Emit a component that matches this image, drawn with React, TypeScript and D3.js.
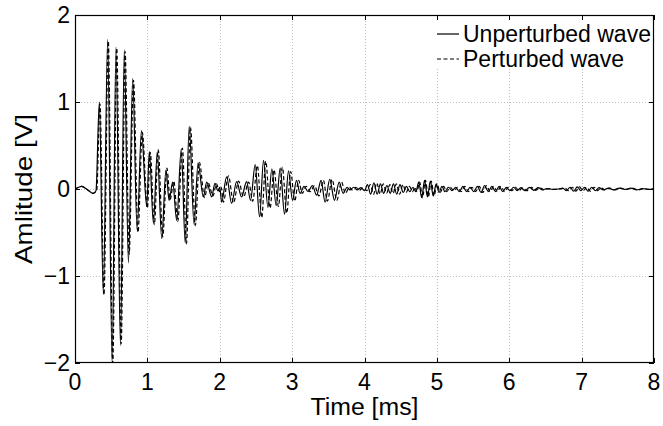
import * as d3 from "d3";

// peaks and troughs, [time ms, amplitude V]
const unperturbedWave: [number, number][] = [
  [0.0, 0.0], [0.05, 0.02], [0.09, 0.03], [0.14, 0.01], [0.19, -0.02], [0.25, -0.05], [0.29, -0.02],
  [0.336, 1.0], [0.391, -1.2], [0.451, 1.72], [0.513, -2.0], [0.566, 1.63], [0.628, -1.8],
  [0.681, 1.6], [0.738, -0.85], [0.797, 1.27], [0.858, -0.47], [0.918, 0.67], [0.99, -0.2],
  [1.027, 0.43], [1.083, -0.39], [1.137, 0.43], [1.198, -0.57], [1.257, 0.22], [1.3, -0.13],
  [1.35, 0.08], [1.405, -0.36], [1.468, 0.46], [1.523, -0.62], [1.578, 0.72], [1.645, -0.41],
  [1.7, 0.3], [1.773, -0.09], [1.82, 0.08], [1.888, -0.09], [1.934, 0.065], [1.975, -0.02],
  [2.0, 0.02], [2.026, -0.15], [2.095, 0.14], [2.164, -0.165], [2.233, 0.084], [2.302, -0.09],
  [2.371, 0.084], [2.425, -0.13], [2.49, 0.28], [2.55, -0.32], [2.605, 0.33], [2.665, -0.21],
  [2.72, 0.23], [2.78, -0.19], [2.835, 0.24], [2.895, -0.29], [2.95, 0.21], [3.005, -0.13],
  [3.06, 0.1], [3.11, -0.05], [3.165, 0.03], [3.22, -0.03], [3.28, 0.04], [3.338, -0.07],
  [3.4, 0.1], [3.455, -0.15], [3.52, 0.11], [3.585, -0.13], [3.65, 0.08], [3.705, -0.05],
  [3.76, 0.02], [3.8, -0.01], [3.85, 0.02], [3.9, -0.01], [3.95, 0.015], [4.0, -0.02],
  [4.04, 0.05], [4.085, -0.06], [4.13, 0.07], [4.175, -0.06], [4.22, 0.06], [4.265, -0.05],
  [4.31, 0.04], [4.355, -0.05], [4.4, 0.06], [4.445, -0.06], [4.49, 0.05], [4.535, -0.04],
  [4.58, 0.03], [4.625, -0.03], [4.67, 0.02], [4.71, -0.03], [4.75, 0.08], [4.79, -0.1],
  [4.83, 0.1], [4.87, -0.09], [4.91, 0.09], [4.95, -0.08], [4.99, 0.06], [5.03, -0.04],
  [5.07, 0.03], [5.11, -0.03], [5.16, 0.02], [5.21, -0.02], [5.26, 0.02], [5.31, -0.03],
  [5.36, 0.03], [5.41, -0.03], [5.46, 0.02], [5.51, -0.03], [5.56, 0.03], [5.61, -0.04],
  [5.66, 0.04], [5.71, -0.03], [5.76, 0.03], [5.81, -0.03], [5.86, 0.03], [5.91, -0.03],
  [5.96, 0.02], [6.01, -0.02], [6.06, 0.02], [6.11, -0.02], [6.16, 0.015], [6.22, -0.02],
  [6.28, 0.02], [6.34, -0.015], [6.4, 0.015], [6.46, -0.01], [6.52, 0.005], [6.6, -0.005],
  [6.68, 0.0], [6.74, 0.01], [6.79, -0.02], [6.84, 0.02], [6.89, -0.025], [6.94, 0.025],
  [6.99, -0.02], [7.04, 0.02], [7.09, -0.025], [7.14, 0.02], [7.19, -0.02], [7.24, 0.015],
  [7.3, -0.01], [7.37, 0.01], [7.44, -0.01], [7.52, 0.01], [7.6, -0.005], [7.68, 0.01],
  [7.76, -0.01], [7.84, 0.005], [7.92, -0.005], [8.0, 0.005],
];

const perturbedWave: [number, number][] = [
  [0.0, 0.0], [0.05, 0.02], [0.09, 0.03], [0.14, 0.01], [0.19, -0.02], [0.25, -0.05], [0.3, -0.02],
  [0.345, 0.98], [0.4, -1.22], [0.46, 1.7], [0.522, -2.0], [0.576, 1.62], [0.638, -1.78],
  [0.692, 1.58], [0.748, -0.75], [0.808, 1.25], [0.87, -0.5], [0.93, 0.65], [1.0, -0.22],
  [1.04, 0.42], [1.096, -0.41], [1.15, 0.45], [1.212, -0.55], [1.27, 0.24], [1.315, -0.12],
  [1.365, 0.09], [1.42, -0.37], [1.484, 0.47], [1.54, -0.63], [1.595, 0.71], [1.663, -0.42],
  [1.718, 0.31], [1.79, -0.1], [1.84, 0.07], [1.907, -0.08], [1.955, 0.06], [1.995, -0.03],
  [2.02, 0.02], [2.05, -0.15], [2.12, 0.15], [2.19, -0.16], [2.26, 0.09], [2.33, -0.09],
  [2.4, 0.08], [2.455, -0.14], [2.52, 0.27], [2.58, -0.33], [2.635, 0.32], [2.695, -0.22],
  [2.75, 0.22], [2.81, -0.2], [2.865, 0.25], [2.925, -0.28], [2.98, 0.2], [3.035, -0.14],
  [3.09, 0.1], [3.14, -0.05], [3.195, 0.03], [3.25, -0.03], [3.31, 0.04], [3.37, -0.08],
  [3.432, 0.1], [3.487, -0.14], [3.552, 0.11], [3.617, -0.13], [3.682, 0.08], [3.737, -0.05],
  [3.79, 0.02], [3.83, -0.01], [3.88, 0.02], [3.93, -0.015], [3.98, 0.015], [4.03, -0.02],
  [4.08, 0.05], [4.125, -0.06], [4.17, 0.07], [4.215, -0.06], [4.26, 0.06], [4.305, -0.05],
  [4.35, 0.05], [4.395, -0.05], [4.44, 0.06], [4.485, -0.06], [4.53, 0.05], [4.575, -0.04],
  [4.62, 0.03], [4.665, -0.03], [4.695, 0.02], [4.725, -0.03], [4.762, 0.08], [4.802, -0.1],
  [4.842, 0.1], [4.882, -0.09], [4.922, 0.09], [4.962, -0.08], [5.002, 0.06], [5.045, -0.04],
  [5.095, 0.03], [5.135, -0.03], [5.185, 0.02], [5.235, -0.02], [5.285, 0.02], [5.335, -0.03],
  [5.385, 0.03], [5.435, -0.03], [5.485, 0.02], [5.535, -0.03], [5.585, 0.03], [5.635, -0.04],
  [5.685, 0.04], [5.735, -0.03], [5.785, 0.03], [5.835, -0.03], [5.885, 0.03], [5.935, -0.03],
  [5.985, 0.02], [6.035, -0.02], [6.085, 0.02], [6.135, -0.02], [6.185, 0.015], [6.245, -0.02],
  [6.305, 0.02], [6.365, -0.015], [6.425, 0.015], [6.485, -0.01], [6.545, 0.005], [6.625, -0.005],
  [6.7, 0.0], [6.77, 0.01], [6.82, -0.02], [6.87, 0.02], [6.92, -0.025], [6.97, 0.025],
  [7.02, -0.02], [7.07, 0.02], [7.12, -0.025], [7.17, 0.02], [7.22, -0.02], [7.27, 0.015],
  [7.32, -0.01], [7.39, 0.01], [7.46, -0.01], [7.54, 0.01], [7.62, -0.005], [7.7, 0.01],
  [7.78, -0.01], [7.86, 0.005], [7.94, -0.005], [8.0, 0.0],
];

const xTickValues = [0, 1, 2, 3, 4, 5, 6, 7, 8];
const yTickValues = [-2, -1, 0, 1, 2];
const legendLabels = ["Unperturbed wave", "Perturbed wave"];

const W = 663;
const H = 426;
const m = { left: 75, right: 9, top: 15, bottom: 63 };
const font = "'Liberation Sans', Arial, Helvetica, sans-serif";

export default function App() {
  const x = d3.scaleLinear().domain([0, 8]).range([m.left, W - m.right]);
  const y = d3.scaleLinear().domain([-2, 2]).range([H - m.bottom, m.top]);
  const fmt = d3.format("d");

  const line = d3
    .line<[number, number]>()
    .x((d) => x(d[0]))
    .y((d) => y(d[1]))
    .curve(d3.curveMonotoneX);

  const x0 = x.range()[0];
  const x1 = x.range()[1];
  const y0 = y.range()[0];
  const y1 = y.range()[1];
  const tk = 5;

  return (
    <svg
      width={W}
      height={H}
      style={{ position: "absolute", left: 0, top: 0, background: "#fff" }}
      fontFamily={font}
    >
      <defs>
        <clipPath id="plot">
          <rect x={x0} y={y1} width={x1 - x0} height={y0 - y1} />
        </clipPath>
      </defs>

      {/* grid */}
      <g stroke="#bdbdbd" strokeWidth={1} strokeDasharray="1 2">
        {xTickValues.slice(1, -1).map((t) => (
          <line key={"gx" + t} x1={Math.round(x(t)) + 0.5} x2={Math.round(x(t)) + 0.5} y1={y1} y2={y0} />
        ))}
        {yTickValues.slice(1, -1).map((t) => (
          <line key={"gy" + t} x1={x0} x2={x1} y1={Math.round(y(t)) + 0.5} y2={Math.round(y(t)) + 0.5} />
        ))}
      </g>

      <g clipPath="url(#plot)" fill="none" stroke="#000" strokeWidth={1.2}>
        <path d={line(unperturbedWave) || ""} />
        <path d={line(perturbedWave) || ""} strokeDasharray="4 2.5" />
      </g>

      {/* legend */}
      <rect x={433} y={17} width={x1 - 434} height={52} fill="#fff" />
      <g fontSize={23} fill="#000">
        <line x1={437} x2={459} y1={34} y2={34} stroke="#000" strokeWidth={1.2} />
        <text x={463} y={42}>{legendLabels[0]}</text>
        <line x1={437} x2={459} y1={59} y2={59} stroke="#000" strokeWidth={1.2} strokeDasharray="4 2.5" />
        <text x={463} y={67}>{legendLabels[1]}</text>
      </g>

      {/* box and ticks */}
      <rect x={x0 + 0.5} y={y1 + 0.5} width={x1 - x0 - 1} height={y0 - y1 - 1} fill="none" stroke="#000" strokeWidth={1.2} />
      <g stroke="#000" strokeWidth={1}>
        {xTickValues.map((t) => {
          const px = Math.round(x(t)) + 0.5;
          return (
            <g key={"tx" + t}>
              <line x1={px} x2={px} y1={y0} y2={y0 - tk} />
              <line x1={px} x2={px} y1={y1} y2={y1 + tk} />
            </g>
          );
        })}
        {yTickValues.map((t) => {
          const py = Math.round(y(t)) + 0.5;
          return (
            <g key={"ty" + t}>
              <line x1={x0} x2={x0 + tk} y1={py} y2={py} />
              <line x1={x1} x2={x1 - tk} y1={py} y2={py} />
            </g>
          );
        })}
      </g>

      <g fontSize={23} fill="#000">
        {xTickValues.map((t) => (
          <text key={"lx" + t} x={x(t)} y={y0 + 27} textAnchor="middle">
            {fmt(t)}
          </text>
        ))}
        {yTickValues.map((t) => (
          <text key={"ly" + t} x={x0 - 5} y={y(t) + 8} textAnchor="end">
            {fmt(t)}
          </text>
        ))}
        <text x={(x0 + x1) / 2} y={415} textAnchor="middle" textLength={108} lengthAdjust="spacingAndGlyphs">
          Time [ms]
        </text>
        <text
          transform={`translate(32,${(y0 + y1) / 2}) rotate(-90)`}
          textAnchor="middle"
          fontSize={24}
          textLength={150}
          lengthAdjust="spacingAndGlyphs"
        >
          Amlitude [V]
        </text>
      </g>
    </svg>
  );
}
